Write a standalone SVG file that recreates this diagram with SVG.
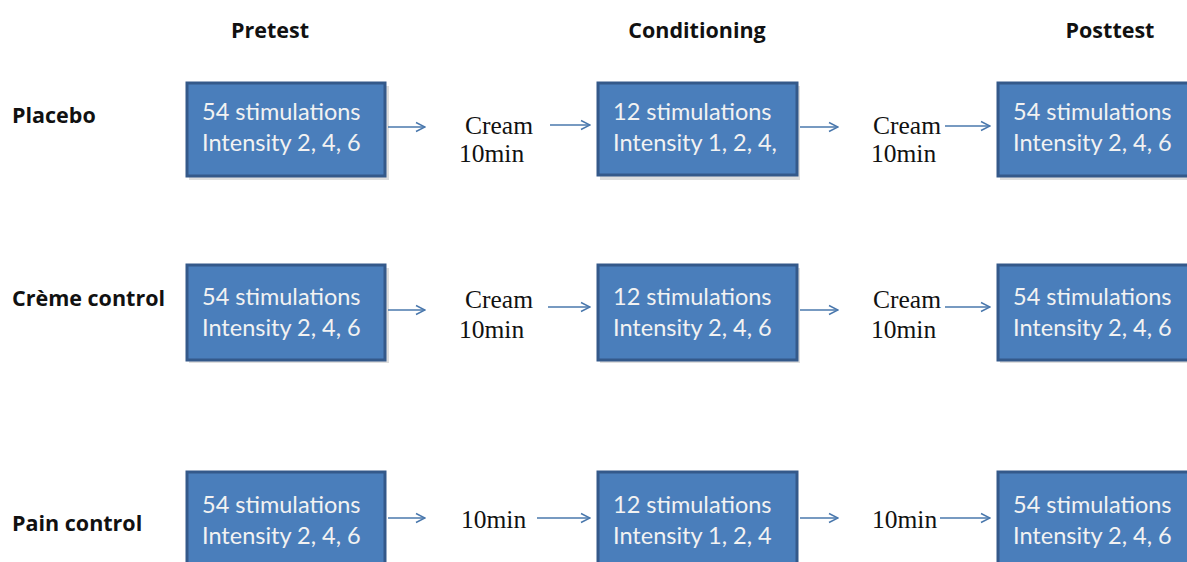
<svg xmlns="http://www.w3.org/2000/svg" width="1187" height="562" viewBox="0 0 1187 562">
<style>
.box{fill:#4a7ebb;stroke:#34598a;stroke-width:3}
.shadow{fill:#c8c8c8;opacity:0.6}
.bt{font-family:Lato,"Open Sans",sans-serif;font-size:23.5px;fill:#f2f2f2}
.hd{font-family:"Open Sans","Noto Sans",sans-serif;font-weight:bold;font-size:21.5px;fill:#111}
.st{font-family:"Liberation Serif",serif;font-size:25.5px;fill:#111}
.arr{stroke:#4a78ad;stroke-width:1.5;fill:none}
</style>
<defs>
<marker id="ah" viewBox="0 0 12 12" refX="11" refY="6" markerWidth="12" markerHeight="12" markerUnits="userSpaceOnUse" orient="auto">
<path d="M2,1.5 L11,6 L2,10.5" fill="none" stroke="#4a78ad" stroke-width="1.5"/>
</marker>
</defs>
<g id="headers">
<text class="hd" x="270" y="38" text-anchor="middle">Pretest</text>
<text class="hd" x="697" y="38" text-anchor="middle">Conditioning</text>
<text class="hd" x="1110" y="38" text-anchor="middle">Posttest</text>
<text class="hd" x="12" y="123">Placebo</text>
<text class="hd" x="12" y="306">Crème control</text>
<text class="hd" x="12" y="531">Pain control</text>
</g>
<g id="r1b1"><rect class="shadow" x="189" y="86" width="200" height="94"/><rect class="box" x="187" y="83" width="198" height="93"/><text class="bt" x="202" y="120">54 stimulations</text><text class="bt" x="202" y="151">Intensity 2, 4, 6</text></g>
<g id="r1b2"><rect class="shadow" x="600" y="86" width="200" height="94"/><rect class="box" x="598" y="83" width="199" height="92"/><text class="bt" x="613" y="120">12 stimulations</text><text class="bt" x="613" y="151">Intensity 1, 2, 4,</text></g>
<g id="r1b3"><rect class="shadow" x="1000" y="86" width="200" height="94"/><rect class="box" x="998" y="83" width="200" height="93"/><text class="bt" x="1013" y="120">54 stimulations</text><text class="bt" x="1013" y="151">Intensity 2, 4, 6</text></g>
<g id="r2b1"><rect class="shadow" x="189" y="268" width="200" height="95"/><rect class="box" x="187" y="265" width="198" height="95"/><text class="bt" x="202" y="305">54 stimulations</text><text class="bt" x="202" y="336">Intensity 2, 4, 6</text></g>
<g id="r2b2"><rect class="shadow" x="600" y="268" width="200" height="95"/><rect class="box" x="598" y="265" width="199" height="95"/><text class="bt" x="613" y="305">12 stimulations</text><text class="bt" x="613" y="336">Intensity 2, 4, 6</text></g>
<g id="r2b3"><rect class="shadow" x="1000" y="268" width="200" height="95"/><rect class="box" x="998" y="265" width="200" height="95"/><text class="bt" x="1013" y="305">54 stimulations</text><text class="bt" x="1013" y="336">Intensity 2, 4, 6</text></g>
<g id="r3b1"><rect class="box" x="187" y="472" width="198" height="95"/><text class="bt" x="202" y="513">54 stimulations</text><text class="bt" x="202" y="544">Intensity 2, 4, 6</text></g>
<g id="r3b2"><rect class="box" x="598" y="472" width="199" height="95"/><text class="bt" x="613" y="513">12 stimulations</text><text class="bt" x="613" y="544">Intensity 1, 2, 4</text></g>
<g id="r3b3"><rect class="box" x="998" y="472" width="200" height="95"/><text class="bt" x="1013" y="513">54 stimulations</text><text class="bt" x="1013" y="544">Intensity 2, 4, 6</text></g>
<g id="steps">
<text class="st" x="465" y="134">Cream</text><text class="st" x="459" y="162">10min</text>
<text class="st" x="873" y="134">Cream</text><text class="st" x="871" y="162">10min</text>
<text class="st" x="465" y="308">Cream</text><text class="st" x="459" y="338">10min</text>
<text class="st" x="873" y="308">Cream</text><text class="st" x="871" y="338">10min</text>
<text class="st" x="461" y="528">10min</text>
<text class="st" x="872" y="528">10min</text>
</g>
<g id="connectors">
<line class="arr" x1="388" y1="127" x2="425" y2="127" marker-end="url(#ah)"/>
<line class="arr" x1="550" y1="125" x2="590" y2="125" marker-end="url(#ah)"/>
<line class="arr" x1="800" y1="127" x2="838" y2="127" marker-end="url(#ah)"/>
<line class="arr" x1="945" y1="126" x2="990" y2="126" marker-end="url(#ah)"/>
<line class="arr" x1="388" y1="310" x2="425" y2="310" marker-end="url(#ah)"/>
<line class="arr" x1="548" y1="307" x2="590" y2="307" marker-end="url(#ah)"/>
<line class="arr" x1="800" y1="310" x2="838" y2="310" marker-end="url(#ah)"/>
<line class="arr" x1="945" y1="307" x2="990" y2="307" marker-end="url(#ah)"/>
<line class="arr" x1="388" y1="518" x2="425" y2="518" marker-end="url(#ah)"/>
<line class="arr" x1="537" y1="518" x2="590" y2="518" marker-end="url(#ah)"/>
<line class="arr" x1="800" y1="518" x2="838" y2="518" marker-end="url(#ah)"/>
<line class="arr" x1="940" y1="518" x2="990" y2="518" marker-end="url(#ah)"/>
</g>
</svg>
